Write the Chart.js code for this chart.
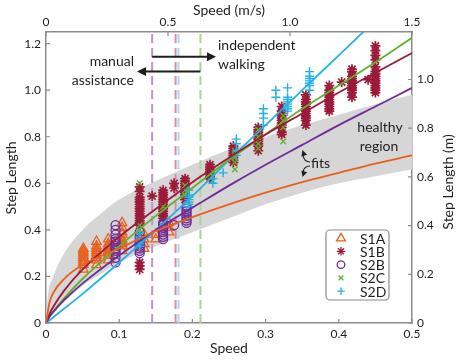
<!DOCTYPE html>
<html>
<head>
<meta charset="utf-8">
<script src="https://cdn.jsdelivr.net/npm/chart.js@4.4.1/dist/chart.umd.min.js"></script>
<style>
  html, body { margin: 0; padding: 0; background: #fff; }
</style>
</head>
<body>
<canvas id="chart" width="459" height="360"></canvas>
<script>
// ---- data ----
// S1A (orange triangles): speed of each cluster and the step lengths in it
const s1aSpeed = [0.051, 0.069, 0.085, 0.104, 0.134, 0.15, 0.168];
const s1aSteps = [
    [0.23, 0.25, 0.26, 0.27, 0.28, 0.29, 0.30, 0.31, 0.32],
    [0.25, 0.27, 0.28, 0.29, 0.30, 0.31, 0.32, 0.33, 0.35],
    [0.27, 0.29, 0.30, 0.31, 0.32, 0.33, 0.34, 0.36],
    [0.31, 0.33, 0.34, 0.35, 0.36, 0.38, 0.39, 0.41, 0.43],
    [0.32, 0.34, 0.36, 0.38],
    [0.36, 0.38],
    [0.39, 0.41, 0.43]
];
// S1B (dark red asterisks)
const s1bSpeed = [0.128, 0.145, 0.16, 0.175, 0.19, 0.224, 0.256, 0.29, 0.322, 0.355, 0.387, 0.404, 0.418, 0.44, 0.45];
const s1bSteps = [
    [0.23, 0.245, 0.26, 0.42, 0.43, 0.44, 0.45, 0.46, 0.47, 0.48, 0.49, 0.50, 0.51, 0.52, 0.53, 0.54, 0.565, 0.585],
    [0.545],
    [0.45, 0.46, 0.47, 0.48, 0.49, 0.50, 0.51, 0.52, 0.53, 0.54, 0.55, 0.56, 0.57],
    [0.58, 0.60],
    [0.53, 0.55, 0.56, 0.57, 0.58, 0.59, 0.60, 0.61, 0.62],
    [0.62, 0.63, 0.64, 0.65, 0.66, 0.67, 0.68],
    [0.69, 0.70, 0.71, 0.72, 0.73, 0.74, 0.75, 0.76],
    [0.74, 0.76, 0.77, 0.78, 0.79, 0.80, 0.81, 0.82, 0.83, 0.84],
    [0.81, 0.82, 0.84, 0.85, 0.86, 0.87, 0.88, 0.89, 0.90, 0.91, 0.93],
    [0.85, 0.87, 0.88, 0.89, 0.90, 0.91, 0.92, 0.93, 0.94, 0.95, 0.96, 0.98],
    [0.91, 0.92, 0.93, 0.94, 0.95, 0.96, 0.97, 0.98, 0.99, 1.00, 1.02],
    [1.035],
    [0.97, 0.99, 1.00, 1.01, 1.02, 1.03, 1.04, 1.05, 1.06, 1.08, 1.09],
    [1.045],
    [0.99, 1.00, 1.01, 1.02, 1.03, 1.04, 1.05, 1.06, 1.07, 1.08, 1.10, 1.13, 1.15, 1.17, 1.19]
];
// S2B (purple circles)
const s2bSpeed = [0.095, 0.128, 0.16, 0.175, 0.192];
const s2bSteps = [
    [0.26, 0.28, 0.30, 0.31, 0.32, 0.33, 0.34, 0.35, 0.36, 0.38, 0.40, 0.42],
    [0.30, 0.31, 0.32, 0.33, 0.34, 0.35, 0.36, 0.37, 0.39],
    [0.36, 0.37, 0.38, 0.39, 0.40, 0.41, 0.42, 0.43],
    [0.42],
    [0.43, 0.44, 0.45, 0.46, 0.47, 0.48, 0.49, 0.50]
];
// S2C (green crosses)
const s2cSpeed = [0.128, 0.16, 0.19, 0.228, 0.258, 0.29, 0.324];
const s2cSteps = [
    [0.40, 0.42, 0.60],
    [0.50],
    [0.55, 0.57, 0.59],
    [0.61, 0.63, 0.65],
    [0.66, 0.69, 0.71, 0.74],
    [0.75, 0.77, 0.80, 0.83],
    [0.78, 0.84, 0.87, 0.89]
];
// S2D (cyan plus signs)
const s2dSpeed = [0.128, 0.195, 0.228, 0.242, 0.26, 0.297, 0.314, 0.33, 0.36];
const s2dSteps = [
    [0.33, 0.34, 0.35, 0.36, 0.37, 0.385],
    [0.50, 0.51, 0.52, 0.53, 0.54, 0.55, 0.57],
    [0.60, 0.62],
    [0.645],
    [0.72, 0.74, 0.77, 0.79],
    [0.85, 0.88, 0.90, 0.92],
    [0.97, 1.00],
    [0.91, 0.92, 0.93, 0.94, 0.95, 0.96, 0.97, 1.01],
    [1.00, 1.02, 1.03, 1.04, 1.05, 1.06, 1.08]
];

// fitted curves, read at these speeds
const fitSpeed = [0, 0.005, 0.01, 0.025, 0.05, 0.1, 0.15, 0.2, 0.25, 0.3, 0.35, 0.4, 0.45, 0.5];
const fitS1A = [0, 0.09, 0.13, 0.19, 0.25, 0.32, 0.395, 0.455, 0.51, 0.56, 0.605, 0.645, 0.685, 0.72];
const fitS1B = [0, 0.04, 0.07, 0.14, 0.23, 0.37, 0.49, 0.605, 0.71, 0.81, 0.90, 0.99, 1.075, 1.16];
const fitS2B = [0, 0.028, 0.048, 0.099, 0.17, 0.29, 0.40, 0.495, 0.59, 0.68, 0.765, 0.85, 0.93, 1.01];
const fitS2C = [0, 0.029, 0.05, 0.107, 0.19, 0.33, 0.46, 0.58, 0.70, 0.81, 0.92, 1.02, 1.12, 1.225];
const fitS2D = [0, 0.012, 0.025, 0.062, 0.125, 0.26, 0.40, 0.545, 0.70, 0.85, 1.00, 1.15, 1.30, 1.45];

// healthy region band
const regionSpeed = [0, 0.002, 0.01, 0.025, 0.05, 0.075, 0.1, 0.15, 0.2, 0.25, 0.3, 0.35, 0.4, 0.45, 0.5];
const regionUpper = [0, 0.10, 0.20, 0.30, 0.40, 0.47, 0.53, 0.61, 0.68, 0.745, 0.80, 0.85, 0.895, 0.94, 0.98];
const regionLower = [0, 0.01, 0.04, 0.09, 0.16, 0.21, 0.26, 0.33, 0.39, 0.45, 0.51, 0.56, 0.60, 0.63, 0.66];

// transition speeds (dashed lines)
const thresholdSpeed = [0.145, 0.177, 0.181, 0.211];

const bottomTicks = [0, 0.1, 0.2, 0.3, 0.4, 0.5];
const topTicks = [0, 0.5, 1.0, 1.5];
const leftTicks = [0, 0.2, 0.4, 0.6, 0.8, 1.0, 1.2];
const rightTicks = [0, 0.2, 0.4, 0.6, 0.8, 1.0];

// ---- styling ----
const ORANGE = '#e8601c';
const DARKRED = '#9c1a3a';
const PURPLE = '#6f2b97';
const GREEN = '#62b02f';
const CYAN = '#22b2e8';
const THRESH_COLORS = ['#b995d8', '#e3899a', '#a3def3', '#acd48e'];
const AXIS = '#8c8c8c';
const INK = '#1e1e1e';
const FONT = 'Lato';

Chart.defaults.font.family = FONT;
Chart.defaults.color = INK;

function points(speeds, steps) {
    return speeds.flatMap((s, i) => steps[i].map(v => ({ x: s, y: v })));
}
function curve(ys) {
    return fitSpeed.map((s, i) => ({ x: s, y: ys[i] }));
}

const series = [
    { label: 'S1A', speed: s1aSpeed, steps: s1aSteps, color: ORANGE, style: 'triangle', r: 5.5, bw: 1.3, order: 60 },
    { label: 'S1B', speed: s1bSpeed, steps: s1bSteps, color: DARKRED, style: 'star', r: 5, bw: 1.7, order: 55 },
    { label: 'S2B', speed: s2bSpeed, steps: s2bSteps, color: PURPLE, style: 'circle', r: 4.5, bw: 1.3, order: 54 },
    { label: 'S2C', speed: s2cSpeed, steps: s2cSteps, color: GREEN, style: 'crossRot', r: 4, bw: 1.3, order: 53 },
    { label: 'S2D', speed: s2dSpeed, steps: s2dSteps, color: CYAN, style: 'cross', r: 4.5, bw: 1.4, order: 52 },
];
const fits = [
    { ys: fitS1A, color: ORANGE },
    { ys: fitS1B, color: DARKRED },
    { ys: fitS2B, color: PURPLE },
    { ys: fitS2C, color: GREEN },
    { ys: fitS2D, color: CYAN },
];

const datasets = [];
// band: upper fills down to the lower one
datasets.push({
    type: 'line', data: regionSpeed.map((s, i) => ({ x: s, y: regionUpper[i] })),
    borderWidth: 0, pointRadius: 0, backgroundColor: '#d6d6d6', fill: '+1',
    cubicInterpolationMode: 'monotone', order: 100
});
datasets.push({
    type: 'line', data: regionSpeed.map((s, i) => ({ x: s, y: regionLower[i] })),
    borderWidth: 0, pointRadius: 0, fill: false,
    cubicInterpolationMode: 'monotone', order: 100
});
thresholdSpeed.forEach((s, i) => {
    datasets.push({
        type: 'line', data: [{ x: s, y: 0 }, { x: s, y: 1.25 }],
        borderColor: THRESH_COLORS[i], borderWidth: 2, borderDash: [9, 5],
        pointRadius: 0, fill: false, order: 90
    });
});
series.forEach(s => {
    datasets.push({
        type: 'scatter', label: s.label, data: points(s.speed, s.steps),
        pointStyle: s.style, pointRadius: s.r, pointBorderWidth: s.bw,
        pointBorderColor: s.color, pointBackgroundColor: 'rgba(0,0,0,0)',
        order: s.order
    });
});
fits.forEach(f => {
    datasets.push({
        type: 'line', data: curve(f.ys), borderColor: f.color, borderWidth: 1.8,
        pointRadius: 0, fill: false, cubicInterpolationMode: 'monotone', order: 10
    });
});

function drawMarker(ctx, style, x, y, r) {
    ctx.beginPath();
    if (style === 'triangle') {
        ctx.moveTo(x, y - r);
        ctx.lineTo(x + r * 0.95, y + r * 0.6);
        ctx.lineTo(x - r * 0.95, y + r * 0.6);
        ctx.closePath();
    } else if (style === 'circle') {
        ctx.arc(x, y, r, 0, Math.PI * 2);
    } else {
        const angles = style === 'cross' ? [0, 90] : style === 'crossRot' ? [45, 135] : [0, 45, 90, 135];
        angles.forEach(a => {
            const rad = a * Math.PI / 180, dx = Math.cos(rad) * r, dy = Math.sin(rad) * r;
            ctx.moveTo(x - dx, y - dy);
            ctx.lineTo(x + dx, y + dy);
        });
    }
    ctx.stroke();
}

function arrowHead(ctx, x, y, angle, len = 9, half = 4.5) {
    ctx.beginPath();
    ctx.moveTo(x, y);
    ctx.lineTo(x - len * Math.cos(angle) + half * Math.sin(angle), y - len * Math.sin(angle) - half * Math.cos(angle));
    ctx.lineTo(x - len * Math.cos(angle) - half * Math.sin(angle), y - len * Math.sin(angle) + half * Math.cos(angle));
    ctx.closePath();
    ctx.fill();
}

const decor = {
    id: 'decor',
    afterDraw(chart) {
        const { ctx, chartArea: a } = chart;
        const { x, x2, y, y2 } = chart.scales;
        ctx.save();

        // inward tick marks
        ctx.strokeStyle = AXIS;
        ctx.lineWidth = 1.2;
        ctx.beginPath();
        bottomTicks.forEach(v => { const px = x.getPixelForValue(v); ctx.moveTo(px, a.bottom); ctx.lineTo(px, a.bottom - 4); });
        topTicks.forEach(v => { const px = x2.getPixelForValue(v); ctx.moveTo(px, a.top); ctx.lineTo(px, a.top + 4); });
        leftTicks.forEach(v => { const py = y.getPixelForValue(v); ctx.moveTo(a.left, py); ctx.lineTo(a.left + 4, py); });
        rightTicks.forEach(v => { const py = y2.getPixelForValue(v); ctx.moveTo(a.right, py); ctx.lineTo(a.right - 4, py); });
        ctx.stroke();

        // axis titles
        ctx.fillStyle = INK;
        ctx.font = '14px ' + FONT;
        ctx.textAlign = 'center';
        ctx.textBaseline = 'middle';
        const cx = (a.left + a.right) / 2;
        ctx.fillText('Speed (m/s)', cx, 10);
        ctx.fillText('Speed', cx, 348);
        ctx.save(); ctx.translate(11, 178); ctx.rotate(-Math.PI / 2); ctx.fillText('Step Length', 0, 0); ctx.restore();
        ctx.save(); ctx.translate(448, 182); ctx.rotate(-Math.PI / 2); ctx.fillText('Step Length (m)', 0, 0); ctx.restore();

        // manual assistance / independent walking
        ctx.textAlign = 'right';
        ctx.fillText('manual', 134, 61);
        ctx.fillText('assistance', 134, 80);
        ctx.textAlign = 'left';
        ctx.fillText('independent', 218, 45);
        ctx.fillText('walking', 218, 64);

        ctx.strokeStyle = INK;
        ctx.lineWidth = 2;
        const xa = x.getPixelForValue(thresholdSpeed[0]);
        const xb = x.getPixelForValue(thresholdSpeed[3]);
        const yUp = y.getPixelForValue(1.144), yDn = y.getPixelForValue(1.08);
        ctx.beginPath(); ctx.moveTo(xa, yUp); ctx.lineTo(214, yUp); ctx.stroke();
        arrowHead(ctx, 216, yUp, 0);
        ctx.beginPath(); ctx.moveTo(xb, yDn); ctx.lineTo(139, yDn); ctx.stroke();
        arrowHead(ctx, 137, yDn, Math.PI);

        // healthy region + fits labels
        ctx.textAlign = 'center';
        ctx.fillText('healthy', 380, 127);
        ctx.fillText('region', 379, 146);
        ctx.textAlign = 'left';
        ctx.fillText('fits', 311, 163);
        ctx.lineWidth = 1.2;
        ctx.beginPath(); ctx.moveTo(310, 162); ctx.quadraticCurveTo(304, 162, 303, 155); ctx.stroke();
        arrowHead(ctx, 302.5, 150, -Math.PI / 2 - 0.3, 6, 3);
        ctx.beginPath(); ctx.moveTo(310, 166); ctx.quadraticCurveTo(304, 166, 303, 172); ctx.stroke();
        arrowHead(ctx, 302.5, 177, Math.PI / 2 + 0.3, 6, 3);

        // legend box
        ctx.fillStyle = '#fff';
        ctx.strokeStyle = AXIS;
        ctx.lineWidth = 1.2;
        ctx.beginPath();
        ctx.roundRect(326, 230, 63, 70, 4);
        ctx.fill(); ctx.stroke();
        ctx.textAlign = 'left';
        ctx.textBaseline = 'middle';
        series.forEach((s, i) => {
            const ly = 238 + i * 13.3;
            ctx.strokeStyle = s.color;
            ctx.lineWidth = 1.3;
            drawMarker(ctx, s.style, 341, ly, s.r * 0.85);
            ctx.fillStyle = INK;
            ctx.fillText(s.label, 360, ly + 1);
        });
        ctx.restore();
    }
};

const tickFmt = v => (v === 0 ? '0' : v.toFixed(1));
const border = { display: true, color: AXIS, width: 1.5 };
const tickFont = { size: 12, family: FONT };

new Chart(document.getElementById('chart').getContext('2d'), {
    type: 'scatter',
    data: { datasets },
    options: {
        responsive: false,
        animation: false,
        events: [],
        layout: { padding: 0 },
        plugins: { legend: { display: false }, tooltip: { enabled: false } },
        scales: {
            x: {
                type: 'linear', position: 'bottom', min: 0, max: 0.5,
                grid: { display: false, drawTicks: false }, border,
                ticks: { stepSize: 0.1, padding: 4, font: tickFont, color: INK, callback: tickFmt, maxRotation: 0 },
                afterFit: s => { s.height = 37; }
            },
            x2: {
                type: 'linear', position: 'top', min: 0, max: 1.5,
                grid: { display: false, drawTicks: false }, border,
                ticks: { stepSize: 0.5, padding: 3, font: tickFont, color: INK, callback: tickFmt, maxRotation: 0 },
                afterFit: s => { s.height = 32; }
            },
            y: {
                type: 'linear', position: 'left', min: 0, max: 1.25,
                grid: { display: false, drawTicks: false }, border,
                ticks: { stepSize: 0.2, includeBounds: false, padding: 5, font: tickFont, color: INK, callback: tickFmt },
                afterFit: s => { s.width = 46; }
            },
            y2: {
                type: 'linear', position: 'right', min: 0, max: 1.195,
                grid: { display: false, drawTicks: false }, border,
                ticks: { stepSize: 0.2, includeBounds: false, padding: 5, font: tickFont, color: INK, callback: tickFmt },
                afterFit: s => { s.width = 47; }
            }
        }
    },
    plugins: [decor]
});
</script>
</body>
</html>
